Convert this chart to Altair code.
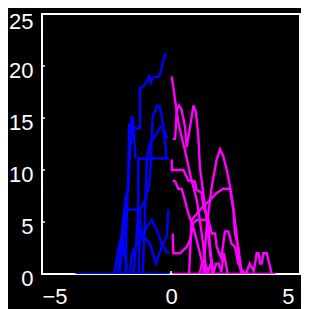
import altair as alt
import pandas as pd

# ---- data ----
b_base_x = [-3.7, -0.05]
b_base_y = [0, 0]
b1_x = [-2.05, -1.9, -1.75, -1.65, -1.59, -1.52, -1.52, -1.20, -1.20, -1.10, -0.94, -0.85, -0.79, -0.69, -0.45, -0.32, -0.23, -0.17]
b1_y = [0, 4.0, 7.5, 8.3, 11.6, 15.2, 14.0, 14.0, 17.9, 18.0, 18.5, 19.0, 18.4, 18.9, 19.0, 20.3, 21.1, 21.1]
b2_x = [-1.45, -1.35, -1.27, -1.27, -0.07]
b2_y = [0, 3.0, 6.2, 11.1, 11.1]
b3_x = [-1.25, -1.2, -1.0, -0.84, -0.78, -0.75, -0.71, -0.53, -0.43, -0.30, -0.17]
b3_y = [0, 6.2, 7.1, 8.7, 10.7, 13.0, 15.1, 16.2, 16.1, 14.2, 11.1]
b4_x = [-1.1, -1.0, -0.94, -0.81, -0.62, -0.43, -0.30, -0.14]
b4_y = [0, 6.0, 11.1, 12.6, 13.2, 14.1, 14.1, 13.0]
b5_x = [-1.75, -1.72, -1.66, -1.62, -1.55, -1.48, -1.42, -1.38]
b5_y = [0, 5.0, 9.0, 14.5, 12.5, 15.0, 13.0, 11.1]
b6_x = [-2.0, -1.85, -1.75, -1.27, -1.27, -1.14, -0.81, -0.58, -0.36, -0.17, -0.10]
b6_y = [0, 3.0, 6.2, 6.2, 5.8, 3.9, 2.9, 1.0, 2.6, 3.6, 6.2]
b7_x = [-1.6, -1.5, -1.3, -1.14, -0.94, -0.75, -0.55, -0.36, -0.17, -0.07]
b7_y = [0, 2.0, 3.0, 3.3, 4.5, 5.2, 4.2, 2.9, 2.1, 2.0]
b8_x = [-2.2, -2.1, -2.0, -1.9, -1.8, -1.7]
b8_y = [0, 1.5, 3.0, 3.5, 2.0, 0.5]

m_base_x = [0.05, 4.05]
m_base_y = [0, 0]
m1_x = [0.03, 0.16, 0.29, 0.41, 0.54, 0.75, 1.0, 1.19, 1.32, 1.38]
m1_y = [19.0, 16.7, 14.5, 13.2, 11.9, 9.5, 7.1, 3.9, 1.3, 0.0]
m2_x = [0.07, 0.16, 0.22, 0.32, 0.41, 0.54, 0.61, 0.74, 0.87, 0.97, 1.06, 1.12, 1.25, 1.38, 1.50, 1.60]
m2_y = [13.0, 13.0, 15.8, 16.2, 15.8, 14.2, 12.2, 14.2, 16.2, 15.5, 13.2, 10.3, 7.8, 5.2, 2.5, 0.0]
m3_x = [0.03, 0.03, 0.48, 0.67, 0.93, 0.99, 1.19, 1.25, 1.45, 1.51, 1.64]
m3_y = [11.0, 10.0, 10.0, 9.0, 8.9, 8.1, 7.8, 6.5, 5.2, 2.6, 0.0]
m4_x = [0.07, 0.16, 0.28, 0.41, 0.54, 0.67, 0.86, 0.99, 1.19, 1.38]
m4_y = [9.0, 8.9, 8.2, 8.2, 7.1, 5.8, 4.5, 3.3, 1.3, 0.0]
m5_x = [1.25, 1.38, 1.58, 1.77, 1.90, 2.03, 2.16, 2.29, 2.42, 2.55, 2.67, 2.74]
m5_y = [0.0, 4.5, 8.4, 11.0, 12.0, 11.3, 10.0, 8.4, 6.2, 3.6, 0.7, 0.0]
m6_x = [0.70, 0.80, 1.0, 1.25, 1.51, 1.77, 2.03, 2.29, 2.42, 2.48, 2.61, 2.74]
m6_y = [0.0, 5.2, 5.8, 6.5, 7.1, 7.8, 8.2, 8.2, 6.2, 3.9, 2.6, 0.0]
m7_x = [0.07, 0.09, 0.35, 0.61, 0.74, 0.86, 1.0, 1.25, 1.45, 1.58, 1.71, 1.77, 1.95, 2.09, 2.22, 2.35, 2.48, 2.61, 2.74, 2.9]
m7_y = [3.9, 2.0, 2.0, 2.6, 3.3, 4.9, 5.2, 5.2, 5.2, 3.9, 3.9, 2.6, 1.5, 4.1, 4.1, 2.9, 2.6, 1.0, 0.4, 0.0]
m8_x = [2.9, 3.05, 3.2, 3.26, 3.32, 3.39, 3.45, 3.52, 3.58, 3.71, 3.84, 3.90]
m8_y = [0.0, 1.0, 0.3, 1.0, 2.0, 2.0, 1.0, 1.0, 2.0, 2.0, 0.7, 0.0]
m9_x = [1.1, 1.2, 1.3, 1.45, 1.55, 1.65, 1.75, 1.85, 1.95, 2.05, 2.2]
m9_y = [0.0, 1.0, 1.0, 0.3, 1.0, 0.2, 1.0, 1.0, 0.2, 2.0, 0.0]

x_ticks = [-5, 0, 5]
y_ticks = [0, 5, 10, 15, 20, 25]

series = {
    "b0": ("neg", b_base_x, b_base_y), "b1": ("neg", b1_x, b1_y), "b2": ("neg", b2_x, b2_y),
    "b3": ("neg", b3_x, b3_y), "b4": ("neg", b4_x, b4_y), "b5": ("neg", b5_x, b5_y),
    "b6": ("neg", b6_x, b6_y), "b7": ("neg", b7_x, b7_y), "b8": ("neg", b8_x, b8_y),
    "m0": ("pos", m_base_x, m_base_y), "m1": ("pos", m1_x, m1_y), "m2": ("pos", m2_x, m2_y),
    "m3": ("pos", m3_x, m3_y), "m4": ("pos", m4_x, m4_y), "m5": ("pos", m5_x, m5_y),
    "m6": ("pos", m6_x, m6_y), "m7": ("pos", m7_x, m7_y), "m8": ("pos", m8_x, m8_y),
    "m9": ("pos", m9_x, m9_y),
}
rows = []
for sid, (grp, xs_, ys_) in series.items():
    for i, (xv, yv) in enumerate(zip(xs_, ys_)):
        rows.append({"id": sid, "grp": grp, "i": i, "x": xv, "y": yv})
df = pd.DataFrame(rows)

xs = alt.Scale(domain=[-5, 5], nice=False)
ys = alt.Scale(domain=[0, 25], nice=False)

font = "Liberation Sans"

lines = alt.Chart(df).mark_line(strokeWidth=2.4, clip=True).encode(
    x=alt.X("x:Q", scale=xs, axis=alt.Axis(
        values=x_ticks, title=None, domain=False, ticks=False,
        labelColor="white", labelFontSize=22, labelFont=font, labelPadding=12, grid=False,
        labelOffset={"condition": {"test": "datum.value == 5", "value": -6}, "value": 0})),
    y=alt.Y("y:Q", scale=ys, axis=alt.Axis(
        values=y_ticks, title=None, domain=False, ticks=False,
        labelColor="white", labelFontSize=22, labelFont=font, labelPadding=9, grid=False,
        labelOffset={"condition": {"test": "datum.value == 25", "value": 7.5}, "value": 4})),
    color=alt.Color("grp:N", scale=alt.Scale(domain=["neg", "pos"], range=["#0000ff", "#ff00ff"]), legend=None),
    detail="id:N",
    order="i:Q",
)

ytick_df = pd.DataFrame({"v": y_ticks})
xtick_df = pd.DataFrame({"v": x_ticks})
yt = alt.Chart(ytick_df).mark_rule(color="white", strokeWidth=1.5).encode(
    y=alt.Y("v:Q", scale=ys), x=alt.value(0), x2=alt.value(3))
xt = alt.Chart(xtick_df).mark_rule(color="white", strokeWidth=1.5).encode(
    x=alt.X("v:Q", scale=xs), y=alt.value(260), y2=alt.value(257))

chart = alt.layer(yt, xt, lines).properties(
    width=258, height=260,
    background="black",
    autosize=alt.AutoSizeParams(type="none"),
    padding={"left": 34, "top": 6, "right": 1, "bottom": 35},
).configure_view(stroke="white", strokeWidth=2)

chart.save("out.html", embed_options={"renderer": "svg", "actions": False})
